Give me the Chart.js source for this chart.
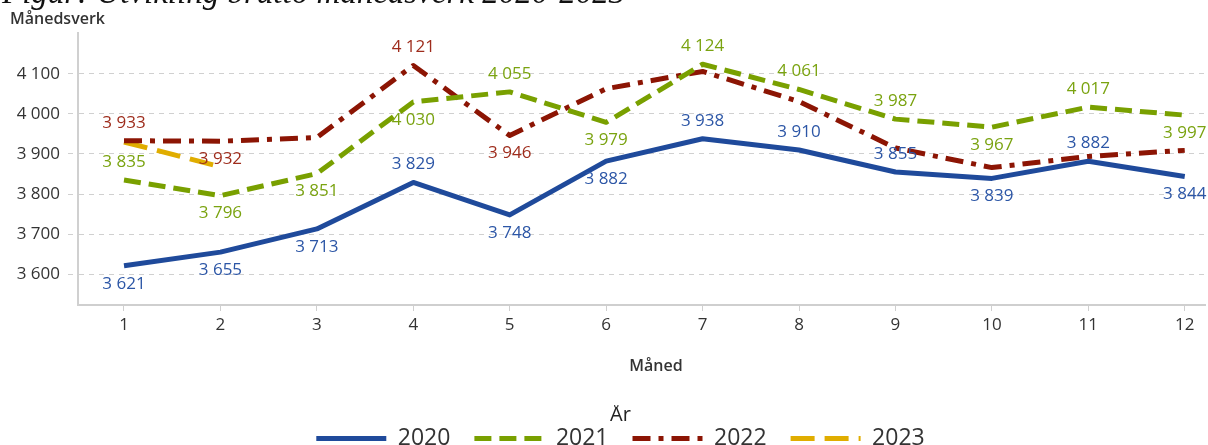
<!DOCTYPE html>
<html>
<head>
<meta charset="utf-8">
<script src="https://cdn.jsdelivr.net/npm/chart.js@4.4.0/dist/chart.umd.min.js"></script>
<style>
  html, body { margin: 0; padding: 0; background: #fff; overflow: hidden; }
  #wrap { position: relative; width: 1208px; height: 445px; overflow: hidden; }
  #box { position: absolute; left: 0; top: 0; width: 1208px; height: 460px; }
  #title {
    position: absolute; left: 2px; top: -24px; white-space: nowrap;
    font: italic 33px/33px "Liberation Serif", "DejaVu Serif", serif; color: #111;
  }
</style>
</head>
<body>
<div id="wrap">
  <div id="box"><canvas id="chart"></canvas></div>
  <div id="title">Figur: Utvikling brutto månedsverk 2020-2023</div>
</div>
<script>
// months on the x axis
const months = [1, 2, 3, 4, 5, 6, 7, 8, 9, 10, 11, 12];
const yTicks = [3600, 3700, 3800, 3900, 4000, 4100];

// brutto månedsverk per year
const years = ['2020', '2021', '2022', '2023'];
const v2020 = [3621, 3655, 3713, 3829, 3748, 3882, 3938, 3910, 3855, 3839, 3882, 3844];
const v2021 = [3835, 3796, 3851, 4030, 4055, 3979, 4124, 4061, 3987, 3967, 4017, 3997];
const v2022 = [3933, 3932, 3941, 4121, 3946, 4063, 4106, 4031, 3915, 3866, 3894, 3909];
const v2023 = [3930, 3868];

// which points carry a value label: 'a' above, 'b' below, null none
const lbl2020 = ['b', 'b', 'b', 'a', 'b', 'b', 'a', 'a', 'a', 'b', 'a', 'b'];
const lbl2021 = ['a', 'b', 'b', 'b', 'a', 'b', 'a', 'a', 'a', 'b', 'a', 'b'];
const lbl2022 = ['a', 'b', null, 'a', 'b', null, null, null, null, null, null, null];
const lbl2023 = [null, null];

const FONT = '"Open Sans", "Noto Sans", sans-serif';

function fmt(v) {
    return String(v).replace(/\B(?=(\d{3})+(?!\d))/g, ' ');
}

function pts(vals) {
    return vals.map((v, i) => ({ x: months[i], y: v }));
}

function series(label, vals, color, dash, labels, labelColor) {
    return {
        label: label,
        data: pts(vals),
        borderColor: color,
        backgroundColor: color,
        borderWidth: 5,
        borderDash: dash,
        borderCapStyle: 'butt',
        borderJoinStyle: 'round',
        pointRadius: 0,
        tension: 0,
        valueLabels: labels,
        labelColor: labelColor
    };
}

// value labels above / below the points
const valueLabels = {
    id: 'valueLabels',
    afterDatasetsDraw(chart) {
        const ctx = chart.ctx;
        ctx.save();
        ctx.font = '17px ' + FONT;
        ctx.textAlign = 'center';
        ctx.textBaseline = 'middle';
        chart.data.datasets.forEach((ds, di) => {
            const meta = chart.getDatasetMeta(di);
            meta.data.forEach((p, i) => {
                const pos = ds.valueLabels[i];
                if (!pos) return;
                ctx.fillStyle = ds.labelColor;
                ctx.fillText(fmt(ds.data[i].y), p.x, p.y + (pos === 'a' ? -18 : 18));
            });
        });
        ctx.restore();
    }
};

// axis captions, and nudge the legend a little to the right
const captions = {
    id: 'captions',
    afterLayout(chart) {
        chart.legend.left += 18;
        chart.legend.right += 18;
    },
    afterDraw(chart) {
        const ctx = chart.ctx;
        ctx.save();
        ctx.fillStyle = '#333';
        ctx.textBaseline = 'middle';
        ctx.font = '600 16px ' + FONT;
        ctx.textAlign = 'left';
        ctx.fillText('Månedsverk', 10, 19);
        ctx.textAlign = 'center';
        ctx.fillText('Måned', 656, 366);
        ctx.restore();
    }
};

const ctx = document.getElementById('chart').getContext('2d');
new Chart(ctx, {
    type: 'line',
    data: {
        datasets: [
            series(years[0], v2020, '#1f4a9b', [], lbl2020, '#2c56a6'),
            series(years[1], v2021, '#79a000', [17, 8], lbl2021, '#7aa310'),
            series(years[2], v2022, '#8c1504', [18, 8, 5, 8], lbl2022, '#9e2c1c'),
            series(years[3], v2023, '#e0ad00', [24, 10], lbl2023, '#c99a00')
        ]
    },
    options: {
        responsive: true,
        maintainAspectRatio: false,
        animation: false,
        layout: { padding: { top: 33, right: 3, left: 0, bottom: 0 } },
        scales: {
            x: {
                type: 'linear',
                min: 0.523,
                max: 12.21,
                afterBuildTicks(scale) {
                    scale.ticks = months.map(m => ({ value: m }));
                },
                afterFit(scale) { scale.height = 100; },
                grid: {
                    drawOnChartArea: false,
                    drawTicks: true,
                    tickLength: 6,
                    color: '#cfcfcf',
                    lineWidth: 1
                },
                border: { color: '#cfcfcf', width: 2 },
                ticks: {
                    color: '#333',
                    font: { family: FONT, size: 17 },
                    padding: 4,
                    maxRotation: 0
                }
            },
            y: {
                min: 3523,
                max: 4202,
                afterBuildTicks(scale) {
                    scale.ticks = yTicks.map(v => ({ value: v }));
                },
                afterFit(scale) { scale.width = 78; },
                grid: {
                    color: '#d0d0d0',
                    lineWidth: 1,
                    tickLength: 10,
                    tickBorderDash: [5, 5],
                    tickColor: '#d0d0d0'
                },
                border: { color: '#d0d0d0', width: 2, dash: [5, 5] },
                ticks: {
                    color: '#333',
                    font: { family: FONT, size: 17 },
                    padding: 8,
                    callback: v => fmt(v)
                }
            }
        },
        plugins: {
            legend: {
                position: 'bottom',
                title: {
                    display: true,
                    text: 'År',
                    color: '#222',
                    font: { family: FONT, size: 20 },
                    padding: { top: 0, bottom: -26 }
                },
                labels: {
                    usePointStyle: true,
                    pointStyle: 'line',
                    pointStyleWidth: 70,
                    color: '#333',
                    font: { family: FONT, size: 23 },
                    padding: 24,
                    generateLabels(chart) {
                        const items = Chart.defaults.plugins.legend.labels.generateLabels(chart);
                        items.forEach(it => {
                            const ds = chart.data.datasets[it.datasetIndex];
                            it.lineDash = ds.borderDash;
                            it.strokeStyle = ds.borderColor;
                            it.lineWidth = 5;
                            it.lineCap = 'butt';
                        });
                        return items;
                    }
                }
            },
            tooltip: { enabled: false }
        }
    },
    plugins: [valueLabels, captions]
});
</script>
</body>
</html>
